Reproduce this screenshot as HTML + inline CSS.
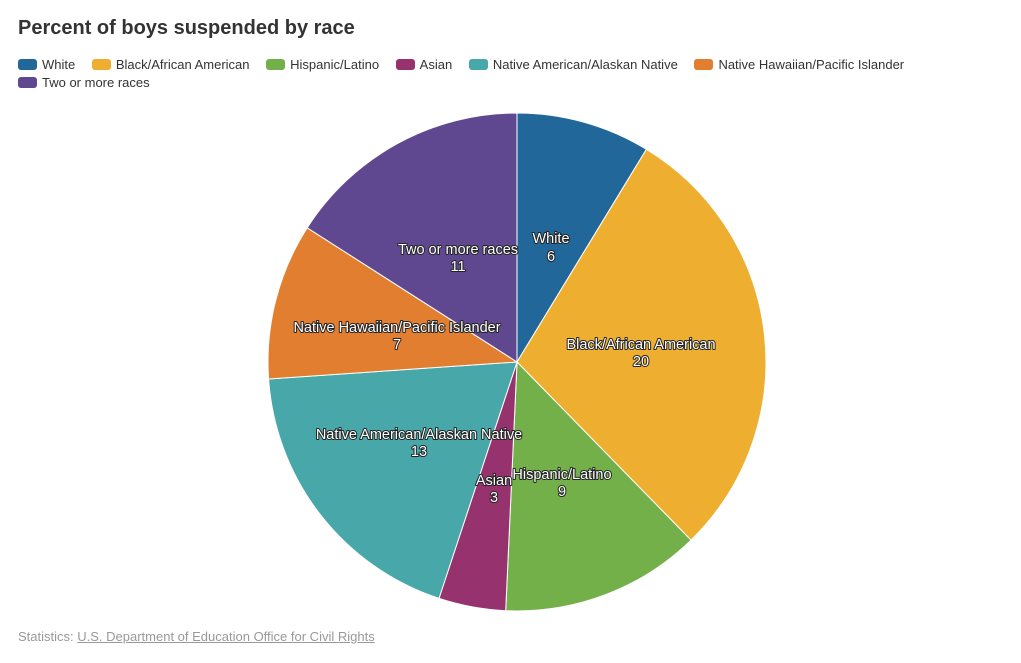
<!DOCTYPE html>
<html><head><meta charset="utf-8"><style>
html,body{margin:0;padding:0;background:#fff;width:1021px;height:663px;overflow:hidden;font-family:"Liberation Sans",sans-serif}
.title{position:absolute;left:18px;top:17px;font-size:20px;font-weight:bold;color:#333}
.legend{position:absolute;left:18px;top:56px;width:980px;font-size:13px;color:#333;line-height:18px}
.li{display:inline-block;margin-right:13px;white-space:nowrap}
.sw{display:inline-block;width:19px;height:11px;border-radius:3px;vertical-align:-1px;margin-right:5px}
.foot{position:absolute;left:18px;top:629px;font-size:13px;color:#999}
.foot u{color:#999}
svg text{font-family:"Liberation Sans",sans-serif;font-size:14.5px;fill:#fff;stroke:#222;stroke-width:2px;paint-order:stroke;stroke-linejoin:round;text-anchor:middle}
</style></head><body>
<div class="title">Percent of boys suspended by race</div>
<div class="legend">
<span class="li"><span class="sw" style="background:#22679a"></span>White</span>
<span class="li"><span class="sw" style="background:#eeaf30"></span>Black/African American</span>
<span class="li"><span class="sw" style="background:#74b04a"></span>Hispanic/Latino</span>
<span class="li"><span class="sw" style="background:#96336f"></span>Asian</span>
<span class="li"><span class="sw" style="background:#48a7a9"></span>Native American/Alaskan Native</span>
<span class="li"><span class="sw" style="background:#e17e2f"></span>Native Hawaiian/Pacific Islander</span><br>
<span class="li"><span class="sw" style="background:#604891"></span>Two or more races</span>
</div>
<svg width="1021" height="663" style="position:absolute;left:0;top:0">
<g stroke="#fff" stroke-width="1">
<path d="M517,362 L517,113 A249,249 0 0 1 646.4,149.3 Z" fill="#22679a"/>
<path d="M517,362 L646.4,149.3 A249,249 0 0 1 691.0,540.1 Z" fill="#eeaf30"/>
<path d="M517,362 L691.0,540.1 A249,249 0 0 1 505.7,610.7 Z" fill="#74b04a"/>
<path d="M517,362 L505.7,610.7 A249,249 0 0 1 439.0,598.4 Z" fill="#96336f"/>
<path d="M517,362 L439.0,598.4 A249,249 0 0 1 268.6,379.0 Z" fill="#48a7a9"/>
<path d="M517,362 L268.6,379.0 A249,249 0 0 1 307.2,227.8 Z" fill="#e17e2f"/>
<path d="M517,362 L307.2,227.8 A249,249 0 0 1 517,113 Z" fill="#604891"/>
</g>
<text x="551" y="243">White</text><text x="551" y="261">6</text>
<text x="641" y="349">Black/African American</text><text x="641" y="366">20</text>
<text x="562" y="479">Hispanic/Latino</text><text x="562" y="496">9</text>
<text x="494" y="485">Asian</text><text x="494" y="502">3</text>
<text x="419" y="439">Native American/Alaskan Native</text><text x="419" y="456">13</text>
<text x="397" y="332">Native Hawaiian/Pacific Islander</text><text x="397" y="349">7</text>
<text x="458" y="254">Two or more races</text><text x="458" y="271">11</text>
</svg>
<div class="foot">Statistics: <u>U.S. Department of Education Office for Civil Rights</u></div>
</body></html>
